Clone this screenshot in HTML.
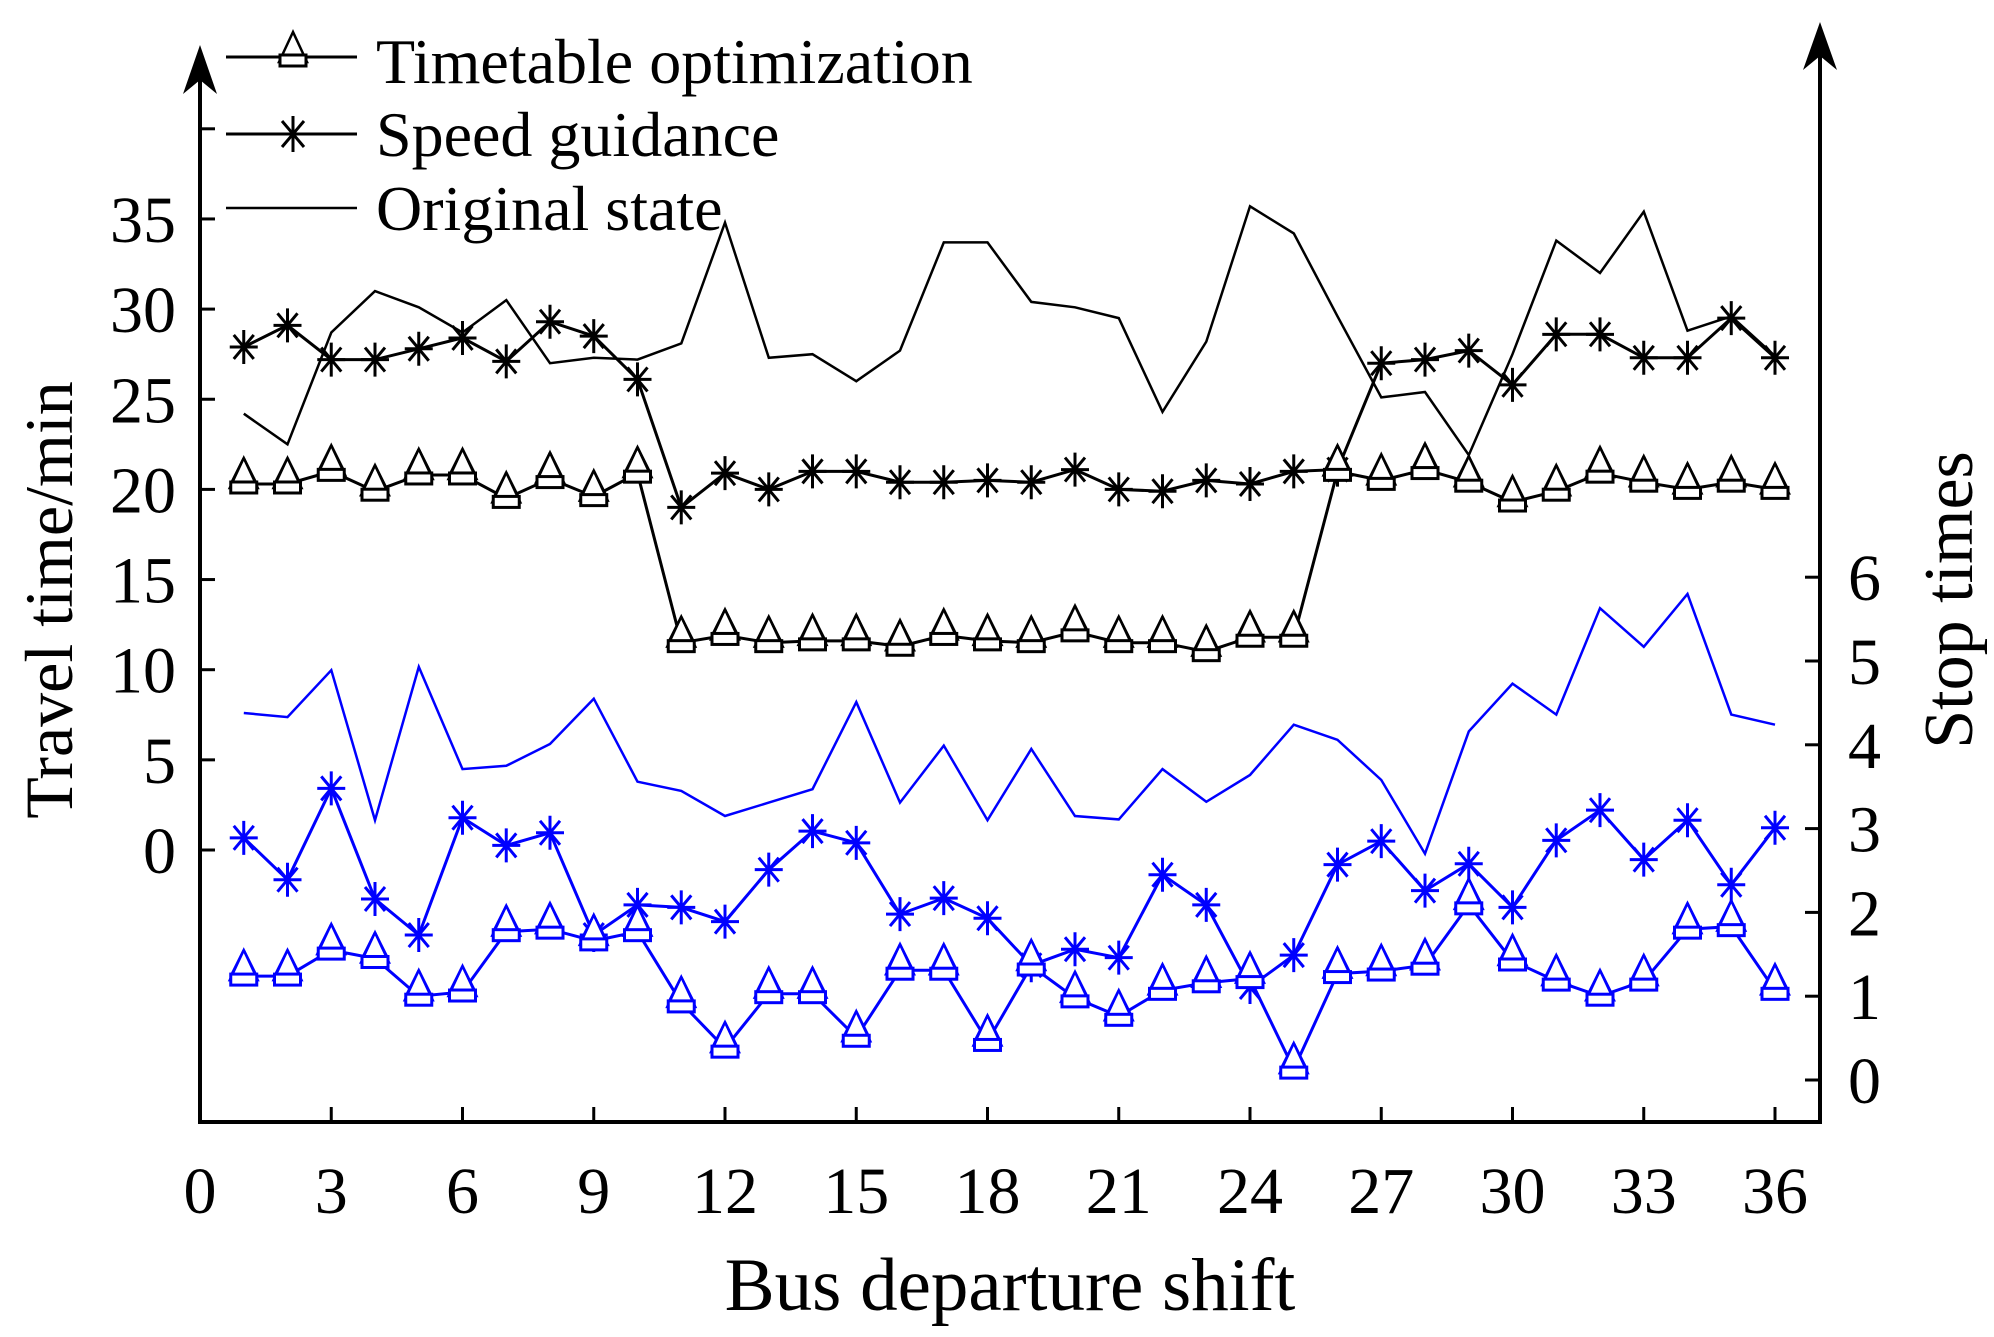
<!DOCTYPE html>
<html><head><meta charset="utf-8"><style>
html,body{margin:0;padding:0;background:#fff;}
svg{display:block;font-family:"Liberation Serif",serif;}
</style></head><body>
<svg id="chart" width="1994" height="1337" viewBox="0 0 1994 1337" xmlns="http://www.w3.org/2000/svg">
<g id="axes"></g>
<g id="series"></g>
<g id="legend">
  <line x1="226" y1="57" x2="357" y2="57" stroke="#000" stroke-width="3"/>
  <g><path d="M293,32 L279,62 L307,62 Z" fill="#fff" stroke="#000" stroke-width="2.5"/><rect x="280" y="55" width="26" height="11" fill="#fff" stroke="#000" stroke-width="3"/></g>
  <text x="376" y="83" font-size="64">Timetable optimization</text>
  <line x1="226" y1="134" x2="357" y2="134" stroke="#000" stroke-width="3"/>
  <g stroke="#000" stroke-width="3"><line x1="279" y1="134" x2="307" y2="134"/><line x1="293" y1="116" x2="293" y2="152"/><line x1="282" y1="121" x2="304" y2="147"/><line x1="304" y1="121" x2="282" y2="147"/></g>
  <text x="376" y="156" font-size="64">Speed guidance</text>
  <line x1="226" y1="208" x2="357" y2="208" stroke="#000" stroke-width="2.5"/>
  <text x="376" y="230" font-size="64">Original state</text>
</g>
<text transform="translate(72,600) rotate(-90)" text-anchor="middle" font-size="68">Travel time/min</text>
<text transform="translate(1972,600) rotate(-90)" text-anchor="middle" font-size="70">Stop times</text>
<text x="1010" y="1310" text-anchor="middle" font-size="75">Bus departure shift</text>
</svg>
<script>
const shifts = [1,2,3,4,5,6,7,8,9,10,11,12,13,14,15,16,17,18,19,20,21,22,23,24,25,26,27,28,29,30,31,32,33,34,35,36];
const originalTime = [24.2,22.5,28.7,31.0,30.1,28.7,30.5,27.0,27.3,27.2,28.1,34.8,27.3,27.5,26.0,27.7,33.7,33.7,30.4,30.1,29.5,24.3,28.2,35.7,34.2,29.6,25.1,25.4,21.9,27.5,33.8,32.0,35.4,28.8,29.6,27.4];
const speedTime = [27.9,29.1,27.2,27.2,27.8,28.4,27.1,29.3,28.5,26.1,19.0,20.9,20.0,21.0,21.0,20.4,20.4,20.5,20.4,21.1,20.0,19.9,20.5,20.3,21.0,21.1,27.0,27.2,27.7,25.8,28.6,28.6,27.3,27.3,29.5,27.3];
const timetableTime = [20.3,20.3,21.0,19.9,20.8,20.8,19.5,20.6,19.6,20.9,11.5,11.9,11.5,11.6,11.6,11.3,11.9,11.6,11.5,12.1,11.5,11.5,11.0,11.8,11.8,21.0,20.5,21.1,20.4,19.3,19.9,20.9,20.4,20.0,20.4,20.0];
const originalStops = [4.38,4.33,4.89,3.10,4.93,3.71,3.75,4.01,4.55,3.56,3.45,3.15,3.31,3.47,4.51,3.31,3.99,3.10,3.95,3.15,3.11,3.71,3.32,3.64,4.24,4.06,3.58,2.70,4.16,4.73,4.36,5.63,5.17,5.80,4.36,4.24];
const speedStops = [2.89,2.39,3.48,2.16,1.73,3.13,2.80,2.95,1.73,2.09,2.06,1.89,2.51,2.97,2.83,1.98,2.17,1.93,1.37,1.56,1.46,2.45,2.09,1.11,1.49,2.57,2.85,2.26,2.58,2.06,2.86,3.22,2.63,3.10,2.33,3.01];
const timetableStops = [1.24,1.24,1.55,1.45,1.00,1.05,1.77,1.80,1.66,1.77,0.92,0.38,1.03,1.03,0.51,1.31,1.31,0.46,1.36,0.98,0.76,1.07,1.16,1.21,0.13,1.27,1.30,1.37,2.09,1.42,1.18,1.00,1.18,1.80,1.83,1.07];
const xTicks = [0,3,6,9,12,15,18,21,24,27,30,33,36];
const yLeftTicks = [0,5,10,15,20,25,30,35];
const yRightTicks = [0,1,2,3,4,5,6];

const NS = "http://www.w3.org/2000/svg";
const X0 = 200, XR = 1820, YB = 1122;
const xs = v => 200 + v * 43.75;
const yl = v => 850 - v * 18.03;
const yr = v => 1080 - v * 83.8;
function mk(tag, attrs, parent) {
  const e = document.createElementNS(NS, tag);
  for (const k in attrs) e.setAttribute(k, attrs[k]);
  parent.appendChild(e);
  return e;
}
const axes = document.getElementById('axes');
const series = document.getElementById('series');

let e = mk('line', {x1:X0, y1:YB, x2:X0, y2:60, stroke:'#000', 'stroke-width':4}, axes);


e = mk('path', {d:`M${X0},45 L${X0-17},94 L${X0},80 L${X0+17},94 Z`, fill:'#000'}, axes);


e = mk('line', {x1:XR, y1:YB, x2:XR, y2:40, stroke:'#000', 'stroke-width':4}, axes);


e = mk('path', {d:`M${XR},22 L${XR-17},70 L${XR},56 L${XR+17},70 Z`, fill:'#000'}, axes);


e = mk('line', {x1:X0-2, y1:YB, x2:XR+2, y2:YB, stroke:'#000', 'stroke-width':4}, axes);



xTicks.forEach(t => {
  if (t > 0) {
    const tk = mk('line', {x1:xs(t), y1:YB, x2:xs(t), y2:YB-15, stroke:'#000', 'stroke-width':3}, axes);
    
    
  }
  const lb = mk('text', {x:xs(t), y:1213, 'text-anchor':'middle', 'font-size':66}, axes);
  lb.textContent = t;
  
  
});
yLeftTicks.concat([40]).forEach(t => {
  const tk = mk('line', {x1:X0, y1:yl(t), x2:X0+15, y2:yl(t), stroke:'#000', 'stroke-width':3}, axes);
  
  
});
yLeftTicks.forEach(t => {
  const lb = mk('text', {x:176, y:yl(t)+23, 'text-anchor':'end', 'font-size':66}, axes);
  lb.textContent = t;
  
  
});
yRightTicks.forEach(t => {
  const tk = mk('line', {x1:XR, y1:yr(t), x2:XR-15, y2:yr(t), stroke:'#000', 'stroke-width':3}, axes);
  
  
  const lb = mk('text', {x:1848, y:yr(t)+23, 'font-size':66}, axes);
  lb.textContent = t;
  
  
});

function drawLine(vals, yf, color, w, name) {
  const pts = vals.map((v, i) => xs(shifts[i]).toFixed(1) + ',' + yf(v).toFixed(1)).join(' ');
  const pl = mk('polyline', {points:pts, fill:'none', stroke:color, 'stroke-width':w, 'stroke-linejoin':'miter'}, series);
  
  
}
function drawTriangles(vals, yf, color, name) {
  vals.forEach((v, i) => {
    const cx = xs(shifts[i]), cy = yf(v);
    const g = mk('g', {}, series);
    
    
    mk('path', {d:`M${cx},${cy-26} L${cx-14},${cy+4} L${cx+14},${cy+4} Z`, fill:'#fff', stroke:color, 'stroke-width':2.5}, g);
    mk('rect', {x:cx-13, y:cy-2, width:26, height:11, fill:'#fff', stroke:color, 'stroke-width':3}, g);
    mk('path', {d:`M${cx},${cy-26} L${cx-12},${cy-2} M${cx},${cy-26} L${cx+12},${cy-2}`, fill:'none', stroke:color, 'stroke-width':2.5}, g);
  });
}
function drawStars(vals, yf, color, name) {
  vals.forEach((v, i) => {
    const cx = xs(shifts[i]), cy = yf(v);
    const d = `M${cx-14},${cy} L${cx+14},${cy} M${cx},${cy-17} L${cx},${cy+17} M${cx-10},${cy-12} L${cx+10},${cy+12} M${cx+10},${cy-12} L${cx-10},${cy+12}`;
    const p = mk('path', {d:d, stroke:color, 'stroke-width':3, fill:'none'}, series);
    
    
  });
}
drawLine(originalTime, yl, '#000', 2.5, 'original-time-line');
drawLine(speedTime, yl, '#000', 3, 'speed-time-line');
drawStars(speedTime, yl, '#000', 'speed-time-point');
drawLine(timetableTime, yl, '#000', 3, 'timetable-time-line');
drawTriangles(timetableTime, yl, '#000', 'timetable-time-point');
drawLine(originalStops, yr, '#0000ff', 2.5, 'original-stops-line');
drawLine(speedStops, yr, '#0000ff', 3, 'speed-stops-line');
drawStars(speedStops, yr, '#0000ff', 'speed-stops-point');
drawLine(timetableStops, yr, '#0000ff', 3, 'timetable-stops-line');
drawTriangles(timetableStops, yr, '#0000ff', 'timetable-stops-point');
</script>
</body></html>
